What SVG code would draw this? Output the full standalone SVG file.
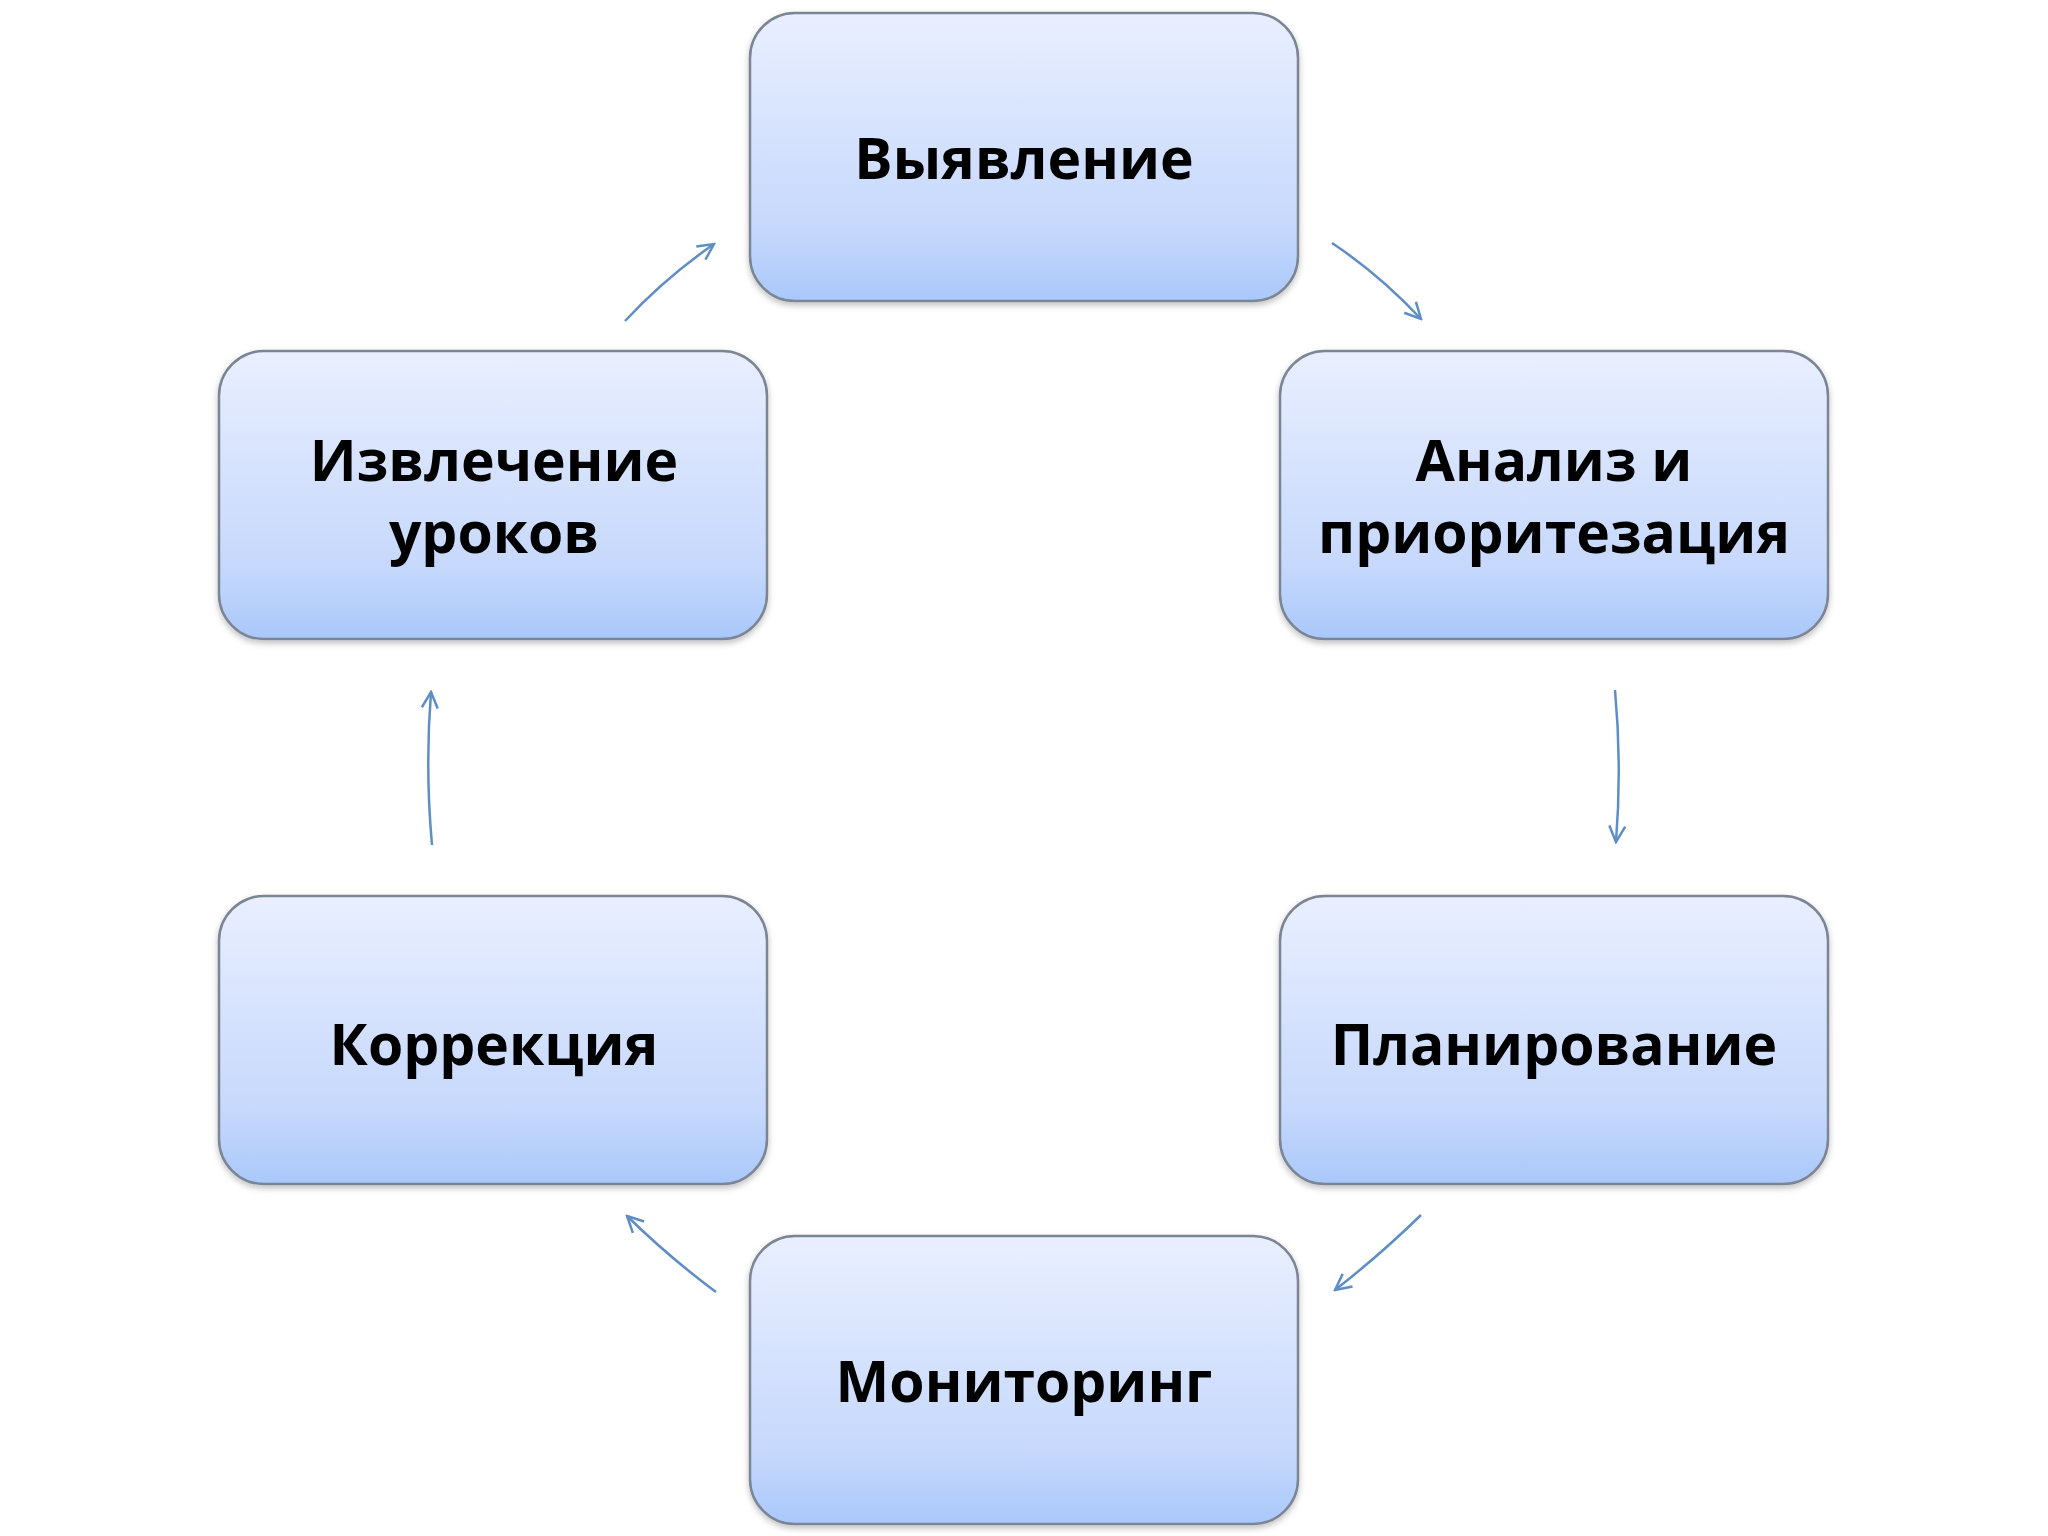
<svg xmlns="http://www.w3.org/2000/svg" width="2048" height="1536" viewBox="0 0 2048 1536">
<style>
.box{fill:url(#g);stroke:#7c8594;stroke-width:2.5;filter:url(#sh)}
.t{font-family:"Open Sans","DejaVu Sans",sans-serif;font-weight:bold;font-size:57px;fill:#000;text-anchor:middle}
.c{fill:none;stroke:#5f8dc6;stroke-width:2.5;marker-end:url(#a)}
</style>
<defs>
<linearGradient id="g" x1="0" y1="0" x2="0" y2="1">
<stop offset="0" stop-color="#e9efff"/><stop offset="0.75" stop-color="#c6d8fc"/><stop offset="1" stop-color="#a9c8fa"/>
</linearGradient>
<filter id="sh" x="-5%" y="-5%" width="110%" height="115%"><feDropShadow dx="0" dy="3" stdDeviation="3" flood-color="#000" flood-opacity="0.25"/></filter>
<marker id="a" viewBox="0 0 20 20" refX="18" refY="10" markerWidth="20" markerHeight="20" markerUnits="userSpaceOnUse" orient="auto">
<path d="M2 2 L18 10 L2 18" fill="none" stroke="#5f8dc6" stroke-width="2.5"/>
</marker>
</defs>
<rect width="2048" height="1536" fill="#fff"/>
<g id="n1"><rect class="box" x="750" y="13" width="548" height="288" rx="45"/><text class="t" x="1024" y="179">Выявление</text></g>
<g id="n2"><rect class="box" x="1280" y="351" width="548" height="288" rx="45"/><text class="t" x="1554" y="481">Анализ и</text><text class="t" x="1554" y="553">приоритезация</text></g>
<g id="n3"><rect class="box" x="1280" y="896" width="548" height="288" rx="45"/><text class="t" x="1554" y="1065">Планирование</text></g>
<g id="n4"><rect class="box" x="750" y="1236" width="548" height="288" rx="45"/><text class="t" x="1024" y="1402">Мониторинг</text></g>
<g id="n5"><rect class="box" x="219" y="896" width="548" height="288" rx="45"/><text class="t" x="494" y="1065">Коррекция</text></g>
<g id="n6"><rect class="box" x="219" y="351" width="548" height="288" rx="45"/><text class="t" x="494" y="481">Извлечение</text><text class="t" x="494" y="553">уроков</text></g>
<g id="connectors">
<path class="c" d="M625 321 Q665 278 714 244"/>
<path class="c" d="M1332 243 Q1380 275 1421 319"/>
<path class="c" d="M1615 690 Q1622 766 1616 842"/>
<path class="c" d="M1421 1215 Q1380 1255 1335 1290"/>
<path class="c" d="M716 1292 Q670 1258 627 1216"/>
<path class="c" d="M432 845 Q425 768 431 692"/>
</g>
</svg>
